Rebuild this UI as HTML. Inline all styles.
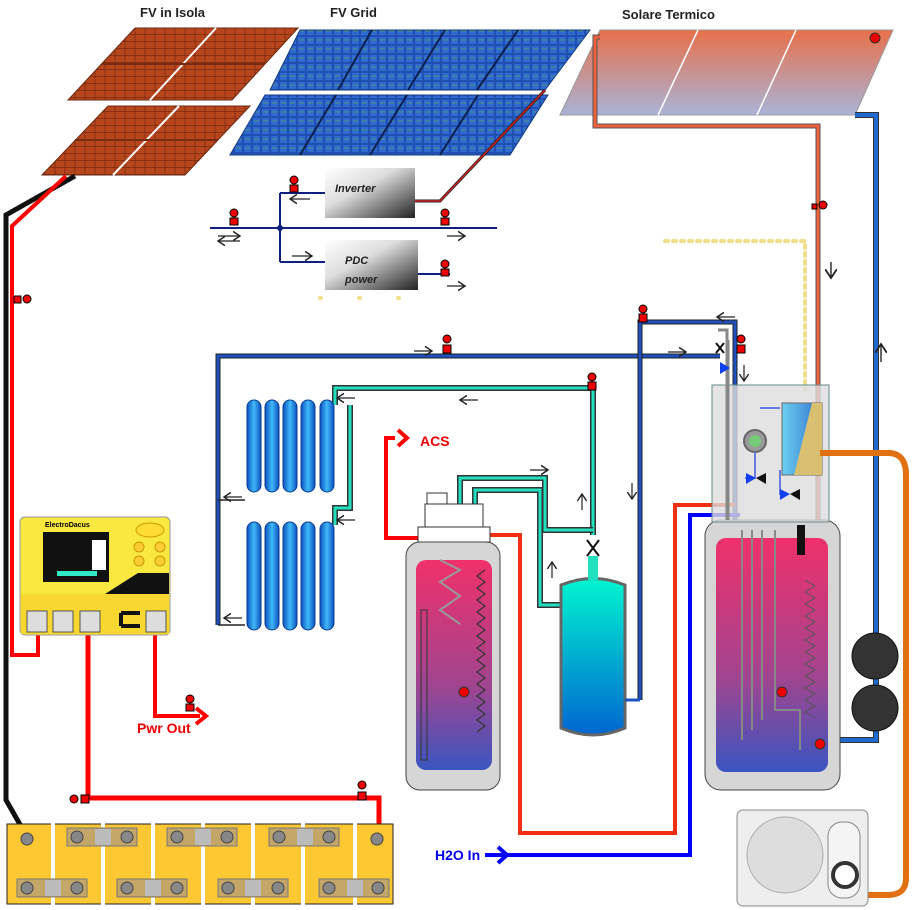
<!DOCTYPE html>
<html><head><meta charset="utf-8"><style>
html,body{margin:0;padding:0;background:#fff;}
svg{display:block;font-family:"Liberation Sans",sans-serif;}
</style></head><body>
<svg width="919" height="910" viewBox="0 0 919 910" xmlns="http://www.w3.org/2000/svg">
<defs>
<pattern id="tile" width="10" height="7" patternUnits="userSpaceOnUse">
<rect width="10" height="7" fill="#b8461c"/><path d="M0 6.5H10M5 0V7" stroke="#7a2a10" stroke-width="0.8"/></pattern>
<pattern id="cell" width="9" height="9" patternUnits="userSpaceOnUse">
<rect width="9" height="9" fill="#1f4fb0"/><rect x="1" y="1" width="7" height="7" fill="#2e6ad0"/><path d="M2 4h5" stroke="#5c9c60" stroke-width="0.8"/></pattern>
<linearGradient id="sol" x1="0" y1="0" x2="0" y2="1"><stop offset="0" stop-color="#e8704a"/><stop offset="1" stop-color="#a9b3d8"/></linearGradient>
<linearGradient id="box" x1="0" y1="0" x2="1" y2="1"><stop offset="0" stop-color="#fff"/><stop offset="0.4" stop-color="#ddd"/><stop offset="1" stop-color="#222"/></linearGradient>
<linearGradient id="tank" x1="0" y1="0" x2="0" y2="1"><stop offset="0" stop-color="#f0306a"/><stop offset="0.6" stop-color="#a04590"/><stop offset="1" stop-color="#3a55c0"/></linearGradient>
<linearGradient id="exp" x1="0" y1="0" x2="0" y2="1"><stop offset="0" stop-color="#00f5d0"/><stop offset="1" stop-color="#0066d0"/></linearGradient>
<linearGradient id="rad" x1="0" y1="0" x2="1" y2="0"><stop offset="0" stop-color="#0a50c0"/><stop offset="0.5" stop-color="#40b8f8"/><stop offset="1" stop-color="#0a50c0"/></linearGradient>
<linearGradient id="hx" x1="0" y1="0" x2="1" y2="0"><stop offset="0" stop-color="#6cd0f0"/><stop offset="1" stop-color="#3070d0"/></linearGradient>
<marker id="ar" markerWidth="8" markerHeight="8" refX="6" refY="4" orient="auto"><path d="M0 0L6 4L0 8" fill="none" stroke="#222" stroke-width="1.2"/></marker>
</defs>

<g font-weight="bold" font-size="13" fill="#222">
<text x="140" y="17">FV in Isola</text><text x="330" y="17">FV Grid</text><text x="622" y="19">Solare Termico</text></g>

<polygon points="135,28 298,28 232,100 68,100" fill="url(#tile)" stroke="#6a2810"/>
<line x1="216" y1="28" x2="150" y2="100" stroke="#fff" stroke-width="2"/>
<line x1="102" y1="64" x2="265" y2="64" stroke="#7a2a10" stroke-width="2"/>
<polygon points="108,106 250,106 185,175 42,175" fill="url(#tile)" stroke="#6a2810"/>
<line x1="179" y1="106" x2="113" y2="175" stroke="#fff" stroke-width="2"/>
<line x1="75" y1="140" x2="218" y2="140" stroke="#7a2a10" stroke-width="2"/>

<polygon points="300,30 590,30 545,90 270,90" fill="url(#cell)" stroke="#123a80"/>
<polygon points="265,95 548,95 510,155 230,155" fill="url(#cell)" stroke="#123a80"/>
<g stroke="#0b2050" stroke-width="2"><line x1="372" y1="30" x2="338" y2="90"/><line x1="445" y1="30" x2="408" y2="90"/><line x1="518" y1="30" x2="477" y2="90"/>
<line x1="336" y1="95" x2="300" y2="155"/><line x1="407" y1="95" x2="370" y2="155"/><line x1="478" y1="95" x2="440" y2="155"/></g>

<polygon points="600,30 893,30 855,115 560,115" fill="url(#sol)" stroke="#999"/>
<g stroke="#fff" stroke-width="1.5"><line x1="698" y1="30" x2="658" y2="115"/><line x1="796" y1="30" x2="757" y2="115"/></g>
<circle cx="875" cy="38" r="5" fill="#e00" stroke="#333"/>

<path d="M600 37H595V126H818V520" fill="none" stroke="#555" stroke-width="5"/>
<path d="M600 37H595V126H818V520" fill="none" stroke="#f2603a" stroke-width="3"/>
<path d="M855 115H876V740H840" fill="none" stroke="#333" stroke-width="6"/>
<path d="M855 115H876V740H840" fill="none" stroke="#1e6ad0" stroke-width="4"/>
<path d="M812 204h5v5h-5z" fill="#e00" stroke="#000"/><circle cx="823" cy="205" r="4" fill="#e00" stroke="#000"/>
<g stroke="#333" stroke-width="1.5" fill="none"><path d="M831 262V278" marker-end="url(#ar)"/><path d="M881 362V344" marker-end="url(#ar)"/></g>

<path d="M665 241H805V390" fill="none" stroke="#f0e08a" stroke-width="4" stroke-dasharray="3,5" stroke-linecap="round"/>
<path d="M320 298H400" fill="none" stroke="#f0e08a" stroke-width="4" stroke-dasharray="1,38" stroke-linecap="round"/>

<g stroke="#102080" stroke-width="2" fill="none">
<path d="M210 228H497"/><path d="M280 193V262"/><path d="M280 193H325"/><path d="M280 262H325"/><path d="M418 274H450"/></g>
<circle cx="280" cy="228" r="3" fill="#102080"/>
<path d="M415 201H440L545 90" fill="none" stroke="#222" stroke-width="3"/><path d="M415 201H440L545 90" fill="none" stroke="#d02020" stroke-width="1.5"/>
<rect x="325" y="168" width="90" height="50" fill="url(#box)"/>
<rect x="325" y="240" width="93" height="50" fill="url(#box)"/>
<g font-weight="bold" font-style="italic" font-size="11" fill="#222"><text x="335" y="192">Inverter</text><text x="345" y="264">PDC</text><text x="345" y="283">power</text></g>
<g stroke="#222" stroke-width="1.2" fill="none">
<path d="M310 199H290" marker-end="url(#ar)"/><path d="M292 256H312" marker-end="url(#ar)"/>
<path d="M447 236H465" marker-end="url(#ar)"/><path d="M447 286H465" marker-end="url(#ar)"/>
<path d="M218 236H240" marker-end="url(#ar)"/><path d="M240 241H218" marker-end="url(#ar)"/></g>
<g fill="#e00" stroke="#000"><circle cx="294" cy="180" r="4"/><rect x="290" y="185" width="8" height="7"/>
<circle cx="234" cy="213" r="4"/><rect x="230" y="218" width="8" height="7"/>
<circle cx="445" cy="213" r="4"/><rect x="441" y="218" width="8" height="7"/>
<circle cx="445" cy="264" r="4"/><rect x="441" y="269" width="8" height="7"/></g>

<path d="M75 176L6 215V800L26 835" fill="none" stroke="#111" stroke-width="5"/>
<path d="M66 176L12 226V655H38V635" fill="none" stroke="#f00" stroke-width="4"/>
<path d="M14 296h7v7h-7z" fill="#e00" stroke="#000"/><circle cx="27" cy="299" r="4" fill="#e00" stroke="#000"/>
<path d="M155 635V716H200" fill="none" stroke="#f00" stroke-width="4"/>
<path d="M196 708L206 716L196 724" fill="none" stroke="#f00" stroke-width="4"/>
<text x="137" y="733" font-weight="bold" font-size="14" fill="#e00">Pwr Out</text>
<circle cx="190" cy="699" r="4" fill="#e00" stroke="#000"/><rect x="186" y="704" width="8" height="7" fill="#e00" stroke="#000"/>
<path d="M88 635V798H379V836" fill="none" stroke="#f00" stroke-width="5"/>
<circle cx="74" cy="799" r="4" fill="#e00" stroke="#000"/><rect x="81" y="795" width="8" height="8" fill="#e00" stroke="#000"/>
<circle cx="362" cy="785" r="4" fill="#e00" stroke="#000"/><rect x="358" y="792" width="8" height="8" fill="#e00" stroke="#000"/>

<rect x="20" y="517" width="150" height="118" rx="5" fill="#f8e840" stroke="#999"/>
<rect x="21" y="594" width="148" height="40" fill="#f8d830"/>
<polygon points="105,594 169,594 169,573 138,573" fill="#111"/>
<text x="45" y="527" font-size="7" font-weight="bold">ElectroDacus</text>
<rect x="43" y="532" width="66" height="50" fill="#111"/><rect x="57" y="571" width="40" height="5" fill="#2ee8c8"/>
<rect x="92" y="540" width="14" height="30" fill="#fff"/>
<ellipse cx="150" cy="530" rx="14" ry="7" fill="#fd3" stroke="#c90"/>
<g fill="#fc3" stroke="#c90"><circle cx="139" cy="547" r="5"/><circle cx="160" cy="547" r="5"/><circle cx="139" cy="561" r="5"/><circle cx="160" cy="561" r="5"/></g>
<g fill="#ddd" stroke="#555"><rect x="27" y="611" width="20" height="21"/><rect x="53" y="611" width="20" height="21"/><rect x="80" y="611" width="20" height="21"/><rect x="146" y="611" width="20" height="21"/></g>
<path d="M121 613H140M121 626H140M121 613V626" stroke="#111" stroke-width="4" fill="none"/>

<g>
<rect x="7" y="824" width="386" height="80" fill="#fdc832" stroke="#222"/>
<g stroke="#fff" stroke-width="4"><line x1="53" y1="822" x2="53" y2="906"/><line x1="103" y1="822" x2="103" y2="906"/><line x1="153" y1="822" x2="153" y2="906"/><line x1="203" y1="822" x2="203" y2="906"/><line x1="253" y1="822" x2="253" y2="906"/><line x1="303" y1="822" x2="303" y2="906"/><line x1="355" y1="822" x2="355" y2="906"/></g>
<g fill="#c4a668" stroke="#777"><rect x="67" y="828" width="70" height="18"/><rect x="167" y="828" width="70" height="18"/><rect x="269" y="828" width="70" height="18"/>
<rect x="17" y="879" width="70" height="18"/><rect x="117" y="879" width="70" height="18"/><rect x="218" y="879" width="70" height="18"/><rect x="319" y="879" width="70" height="18"/></g>
<g fill="#bbb"><rect x="95" y="829" width="16" height="16"/><rect x="195" y="829" width="16" height="16"/><rect x="297" y="829" width="16" height="16"/><rect x="45" y="880" width="16" height="16"/><rect x="145" y="880" width="16" height="16"/><rect x="245" y="880" width="16" height="16"/><rect x="347" y="880" width="16" height="16"/></g>
<g fill="#888" stroke="#444"><circle cx="27" cy="839" r="6"/><circle cx="377" cy="839" r="6"/><circle cx="77" cy="837" r="6"/><circle cx="127" cy="837" r="6"/><circle cx="177" cy="837" r="6"/><circle cx="227" cy="837" r="6"/><circle cx="279" cy="837" r="6"/><circle cx="329" cy="837" r="6"/>
<circle cx="27" cy="888" r="6"/><circle cx="77" cy="888" r="6"/><circle cx="127" cy="888" r="6"/><circle cx="177" cy="888" r="6"/><circle cx="228" cy="888" r="6"/><circle cx="278" cy="888" r="6"/><circle cx="329" cy="888" r="6"/><circle cx="378" cy="888" r="6"/></g>
</g>

<path d="M218 625V356H720" fill="none" stroke="#222" stroke-width="5"/><path d="M218 625V356H720" fill="none" stroke="#1e50c0" stroke-width="3"/>
<path d="M640 700V322H735V520" fill="none" stroke="#222" stroke-width="5"/><path d="M640 700V322H735V520" fill="none" stroke="#1e50c0" stroke-width="3"/>
<g stroke="#222" stroke-width="1.5" fill="none"><path d="M218 500H245M218 625H245"/></g>
<path d="M335 405V388H593V535" fill="none" stroke="#333" stroke-width="6"/><path d="M335 405V388H593V535" fill="none" stroke="#20e0c0" stroke-width="3"/>
<path d="M335 525V508H350V405" fill="none" stroke="#333" stroke-width="6"/><path d="M335 525V508H350V405" fill="none" stroke="#20e0c0" stroke-width="3"/>
<g fill="url(#rad)" stroke="#0a3a90">
<rect x="247" y="400" width="14" height="92" rx="7"/><rect x="265" y="400" width="14" height="92" rx="7"/><rect x="283" y="400" width="14" height="92" rx="7"/><rect x="301" y="400" width="14" height="92" rx="7"/><rect x="320" y="400" width="14" height="92" rx="7"/>
<rect x="247" y="522" width="14" height="108" rx="7"/><rect x="265" y="522" width="14" height="108" rx="7"/><rect x="283" y="522" width="14" height="108" rx="7"/><rect x="301" y="522" width="14" height="108" rx="7"/><rect x="320" y="522" width="14" height="108" rx="7"/></g>
<g stroke="#222" stroke-width="1.2" fill="none">
<path d="M355 398H337" marker-end="url(#ar)"/><path d="M355 520H337" marker-end="url(#ar)"/><path d="M242 497H224" marker-end="url(#ar)"/><path d="M242 618H224" marker-end="url(#ar)"/>
<path d="M478 400H460" marker-end="url(#ar)"/><path d="M414 351H432" marker-end="url(#ar)"/><path d="M668 352H686" marker-end="url(#ar)"/><path d="M735 317H717" marker-end="url(#ar)"/>
<path d="M530 470H548" marker-end="url(#ar)"/><path d="M582 510V494" marker-end="url(#ar)"/><path d="M552 578V562" marker-end="url(#ar)"/><path d="M632 483V499" marker-end="url(#ar)"/><path d="M744 365V381" marker-end="url(#ar)"/></g>
<g fill="#e00" stroke="#000"><circle cx="447" cy="339" r="4"/><rect x="443" y="345" width="8" height="8"/><circle cx="592" cy="377" r="4"/><rect x="588" y="382" width="8" height="8"/>
<circle cx="643" cy="309" r="4"/><rect x="639" y="314" width="8" height="8"/><circle cx="741" cy="339" r="4"/><rect x="737" y="345" width="8" height="8"/></g>

<path d="M460 528V478H545V530H593" fill="none" stroke="#333" stroke-width="6"/><path d="M460 528V478H545V530H593" fill="none" stroke="#20e0c0" stroke-width="3"/>
<path d="M475 528V490H540V605H563" fill="none" stroke="#333" stroke-width="6"/><path d="M475 528V490H540V605H563" fill="none" stroke="#20e0c0" stroke-width="3"/>
<path d="M587 540L599 556M599 540L587 556" stroke="#111" stroke-width="2"/>
<path d="M561 585Q593 572 625 585V728Q593 742 561 728Z" fill="url(#exp)" stroke="#666" stroke-width="3"/>
<rect x="588" y="556" width="10" height="24" fill="#20e0c0"/>
<path d="M625 700H640" stroke="#1e50c0" stroke-width="3"/>

<path d="M395 438H386V538H490" fill="none" stroke="#f00" stroke-width="4"/>
<path d="M398 430L407 438L398 446" fill="none" stroke="#f00" stroke-width="4"/>
<text x="420" y="446" font-weight="bold" font-size="14" fill="#e00">ACS</text>
<path d="M490 535H520V833H675V505H735" fill="none" stroke="#f03010" stroke-width="4"/>
<path d="M485 855H690V515H740" fill="none" stroke="#00f" stroke-width="4"/>
<path d="M498 847L507 855L498 863" fill="none" stroke="#00f" stroke-width="4"/>
<text x="435" y="860" font-weight="bold" font-size="14" fill="#00e">H2O In</text>

<rect x="427" y="493" width="20" height="12" fill="#fff" stroke="#333"/>
<rect x="425" y="504" width="58" height="24" fill="#fff" stroke="#333"/>
<rect x="418" y="527" width="72" height="15" fill="#fff" stroke="#333"/>
<rect x="406" y="542" width="94" height="248" rx="14" fill="#d6d6d6" stroke="#444"/>
<rect x="416" y="560" width="76" height="210" rx="10" fill="url(#tank)"/>
<path d="M440 560l20 10-20 12 20 14-20 14 20 14" fill="none" stroke="#999" stroke-width="2"/>
<path d="M485 570l-8 6 8 6-8 6 8 6-8 6 8 6-8 6 8 6-8 6 8 6-8 6 8 6-8 6 8 6-8 6 8 6-8 6 8 6-8 6 8 6-8 6 8 6-8 6 8 6-8 6 8 6-8 6" fill="none" stroke="#333" stroke-width="1.2"/>
<rect x="421" y="610" width="6" height="150" fill="none" stroke="#333"/>
<circle cx="464" cy="692" r="5" fill="#e00" stroke="#333"/>

<rect x="705" y="520" width="135" height="270" rx="16" fill="#d6d6d6" stroke="#444"/>
<rect x="716" y="538" width="112" height="234" rx="10" fill="url(#tank)"/>
<g fill="none" stroke="#888" stroke-width="2"><path d="M742 530V740M752 530V730M762 530V720M775 530V710H800V750"/></g>
<path d="M805 580l10 6-10 6 10 6-10 6 10 6-10 6 10 6-10 6 10 6-10 6 10 6-10 6 10 6-10 6 10 6-10 6 10 6-10 6 10 6-10 6 10 6-10 6 10 6" fill="none" stroke="#555"/>
<rect x="797" y="525" width="8" height="30" fill="#111"/>
<circle cx="782" cy="692" r="5" fill="#e00" stroke="#333"/><circle cx="820" cy="744" r="5" fill="#e00" stroke="#333"/>
<rect x="712" y="385" width="117" height="137" fill="#ddd" fill-opacity="0.8" stroke="#688"/>
<path d="M718 330H727V520M728 340V520" fill="none" stroke="#888" stroke-width="3"/>
<circle cx="755" cy="441" r="11" fill="#999" stroke="#666" stroke-width="2"/><circle cx="755" cy="441" r="6" fill="#7c7"/>
<rect x="782" y="403" width="40" height="72" fill="url(#hx)" stroke="#666"/>
<polygon points="812,403 822,403 822,475 794,475" fill="#d8c070"/>
<path d="M755 452V478H745M780 470V495M760 408H780" fill="none" stroke="#6a7ae0" stroke-width="2"/>
<g fill="#1040f0"><polygon points="746,473 756,478 746,484"/><polygon points="780,489 790,494 780,500"/><polygon points="720,362 730,368 720,374"/></g>
<g fill="#111"><polygon points="766,473 756,478 766,484"/><polygon points="800,489 790,494 800,500"/></g>
<path d="M716 343l8 10M724 343l-8 10" stroke="#111" stroke-width="2"/>
<path d="M820 453H888Q906 453 906 475V878Q906 895 888 895H868" fill="none" stroke="#e07010" stroke-width="6"/>
<circle cx="875" cy="656" r="23" fill="#333" stroke="#111"/><circle cx="875" cy="708" r="23" fill="#333" stroke="#111"/>
<rect x="737" y="810" width="131" height="96" rx="6" fill="#eee" stroke="#888"/>
<circle cx="785" cy="855" r="38" fill="#ddd" stroke="#aaa"/>
<rect x="828" y="822" width="32" height="76" rx="14" fill="#f4f4f4" stroke="#888"/>
<circle cx="845" cy="875" r="12" fill="#fff" stroke="#333" stroke-width="4"/>
</svg>
</body></html>
